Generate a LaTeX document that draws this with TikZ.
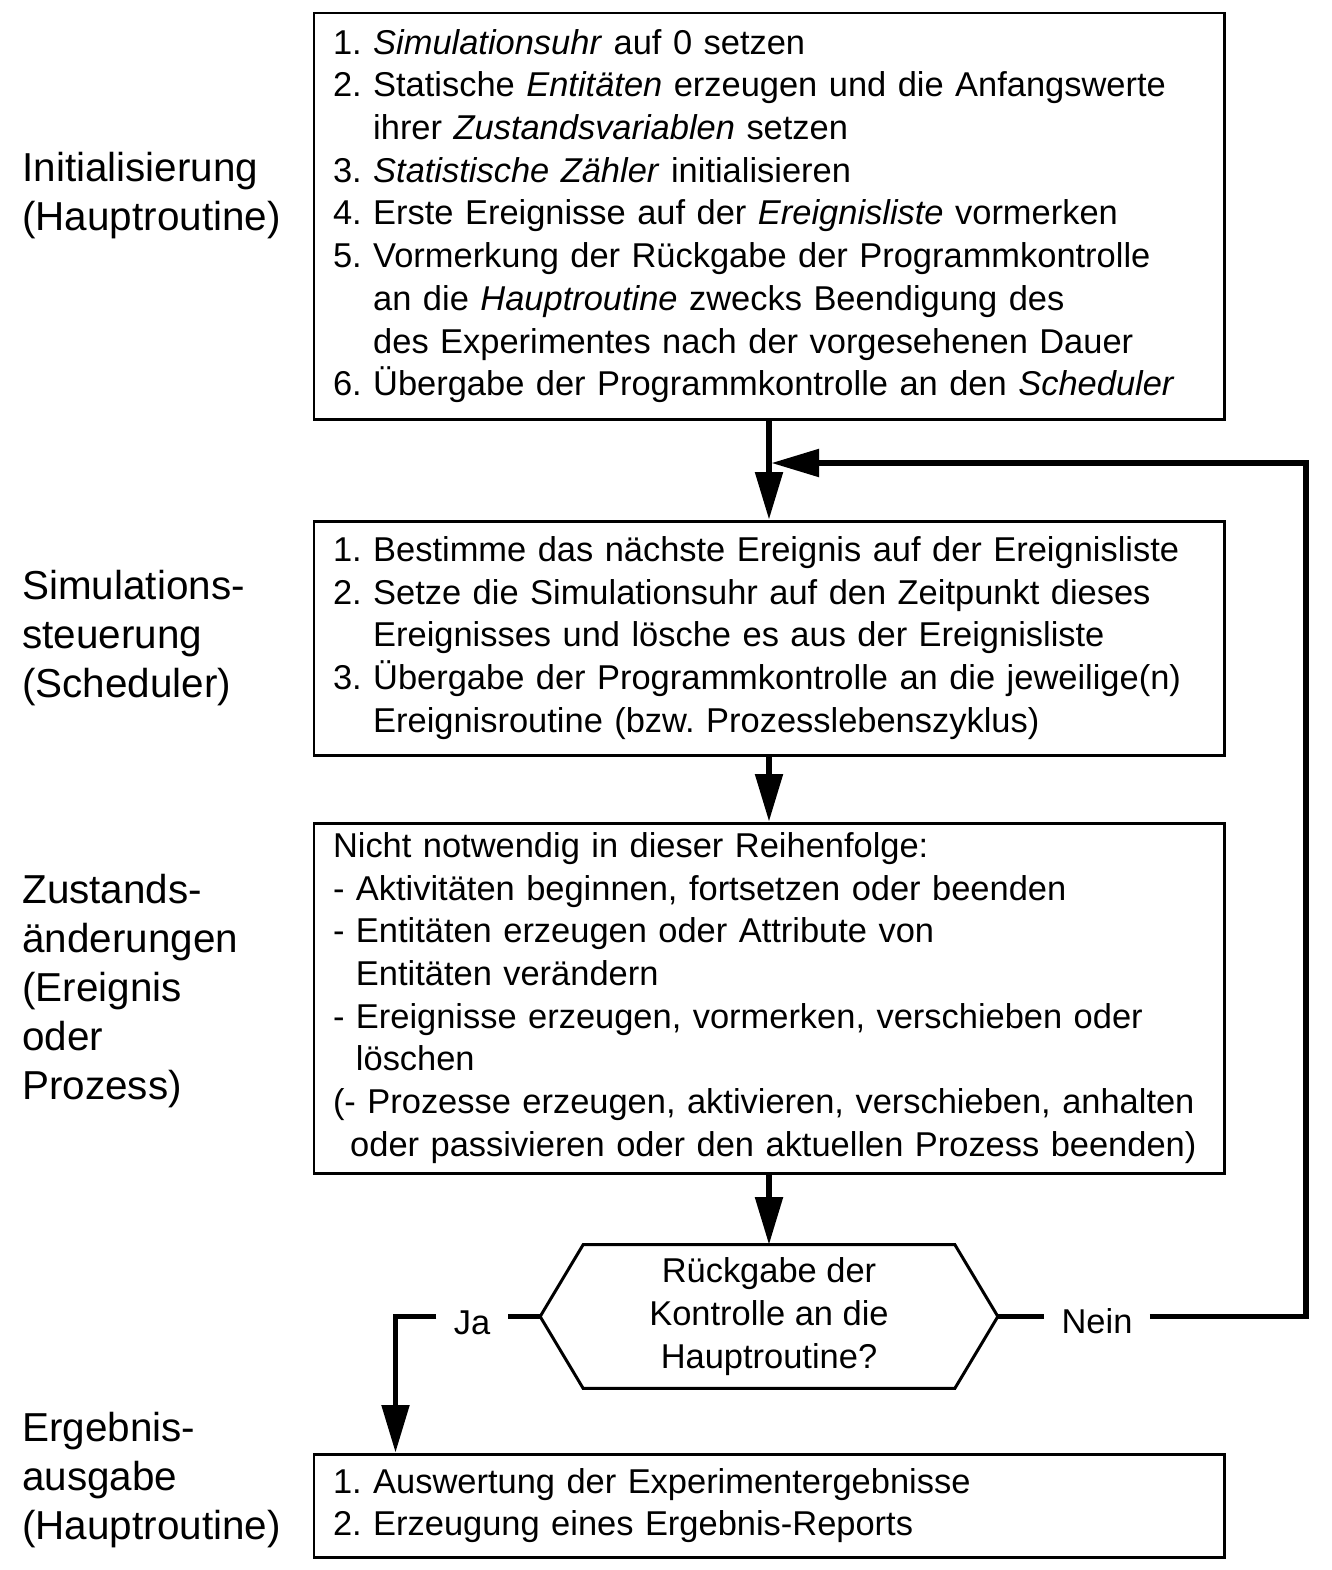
\documentclass[tikz,border=0pt]{standalone}
\usepackage{fontspec}
\setmainfont{Liberation Sans}
\usetikzlibrary{arrows.meta,positioning}

\newcommand{\ind}{\hphantom{1. }}
\newcommand{\dind}{\hphantom{- }}

\begin{document}
\frenchspacing
\begin{tikzpicture}[
  box/.style={draw, line width=1.7pt, text width=17.44cm, inner xsep=0.38cm,
    inner ysep=0pt, align=left, font=\fontsize{19.6}{24.3}\selectfont},
  decision/.style={minimum width=9.14cm, minimum height=2.86cm, inner sep=0pt,
    align=center, font=\fontsize{19.6}{24.3}\selectfont},
  phase/.style={anchor=west, align=left, inner sep=0pt,
    font=\fontsize{23}{27.9}\selectfont},
  answer/.style={inner xsep=0.34cm, inner ysep=0pt, font=\fontsize{19.6}{24.3}\selectfont},
  line/.style={line width=3pt},
  flow/.style={line width=3pt, -{Triangle[length=0.95cm,width=0.54cm]}}
]
\useasboundingbox (0,0) rectangle (26.64,-31.4);

% Phases
\node[phase] (pinit) at (0.44,-3.92) {Initialisierung\\(Hauptroutine)};
\node[phase] (psched) at (0.44,-12.76) {Simulations-\\steuerung\\(Scheduler)};
\node[phase] (pstate) at (0.44,-19.82) {Zustands-\\änderungen\\(Ereignis\\oder\\Prozess)};
\node[phase] (pout) at (0.44,-29.6) {Ergebnis-\\ausgabe\\(Hauptroutine)};

% Boxes
\node[box, minimum height=8.12cm] (init) at (15.38,-4.32) {%
  1. \textit{Simulationsuhr} auf 0 setzen\\
  2. Statische \textit{Entitäten} erzeugen und die Anfangswerte\\
  \ind ihrer \textit{Zustandsvariablen} setzen\\
  3. \textit{Statistische Zähler} initialisieren\\
  4. Erste Ereignisse auf der \textit{Ereignisliste} vormerken\\
  5. Vormerkung der Rückgabe der Programmkontrolle\\
  \ind an die \textit{Hauptroutine} zwecks Beendigung des\\
  \ind des Experimentes nach der vorgesehenen Dauer\\
  6. Übergabe der Programmkontrolle an den \textit{Scheduler}};

\node[box, minimum height=4.68cm] (sched) at (15.38,-12.76) {%
  1. Bestimme das nächste Ereignis auf der Ereignisliste\\
  2. Setze die Simulationsuhr auf den Zeitpunkt dieses\\
  \ind Ereignisses und lösche es aus der Ereignisliste\\
  3. Übergabe der Programmkontrolle an die jeweilige(n)\\
  \ind Ereignisroutine (bzw. Prozesslebenszyklus)};

\node[box, minimum height=7.0cm] (state) at (15.38,-19.96) {%
  Nicht notwendig in dieser Reihenfolge:\\
  - Aktivitäten beginnen, fortsetzen oder beenden\\
  - Entitäten erzeugen oder Attribute von\\
  \dind Entitäten verändern\\
  - Ereignisse erzeugen, vormerken, verschieben oder\\
  \dind löschen\\
  (- Prozesse erzeugen, aktivieren, verschieben, anhalten\\
  \hspace*{0.5em}oder passivieren oder den aktuellen Prozess beenden)};

\node[decision] (check) at (15.38,-26.33) {Rückgabe der\\Kontrolle an die\\Hauptroutine?};
\draw[line width=1.7pt] (check.west) -- ([xshift=0.86cm]check.north west)
  -- ([xshift=-0.86cm]check.north east) -- (check.east)
  -- ([xshift=-0.86cm]check.south east) -- ([xshift=0.86cm]check.south west) -- cycle;

\node[box, minimum height=2.06cm] (out) at (15.38,-30.11) {%
  1. Auswertung der Experimentergebnisse\\
  2. Erzeugung eines Ergebnis-Reports};

% Answers
\node[answer] (ja) at (9.44,-26.45) {Ja};
\node[answer] (nein) at (21.94,-26.43) {Nein};
\coordinate (back) at (26.12,-26.33);
\coordinate (backtop) at (26.12,-9.26);

% Connectors
\draw[flow] (init.south) -- (sched.north);
\draw[flow] (sched.south) -- (state.north);
\draw[flow] (state.south) -- (check.north);
\draw[line] (check.east) -- (check.east -| nein.west);
\draw[flow] (check.east -| nein.east) -- (back) -- (backtop) -- ([xshift=0.05cm]backtop -| init.south);
\draw[line] (check.west) -- (check.west -| ja.east);
\draw[flow] (check.west -| ja.west) -| ([xshift=1.66cm]out.north west);

\end{tikzpicture}
\end{document}
